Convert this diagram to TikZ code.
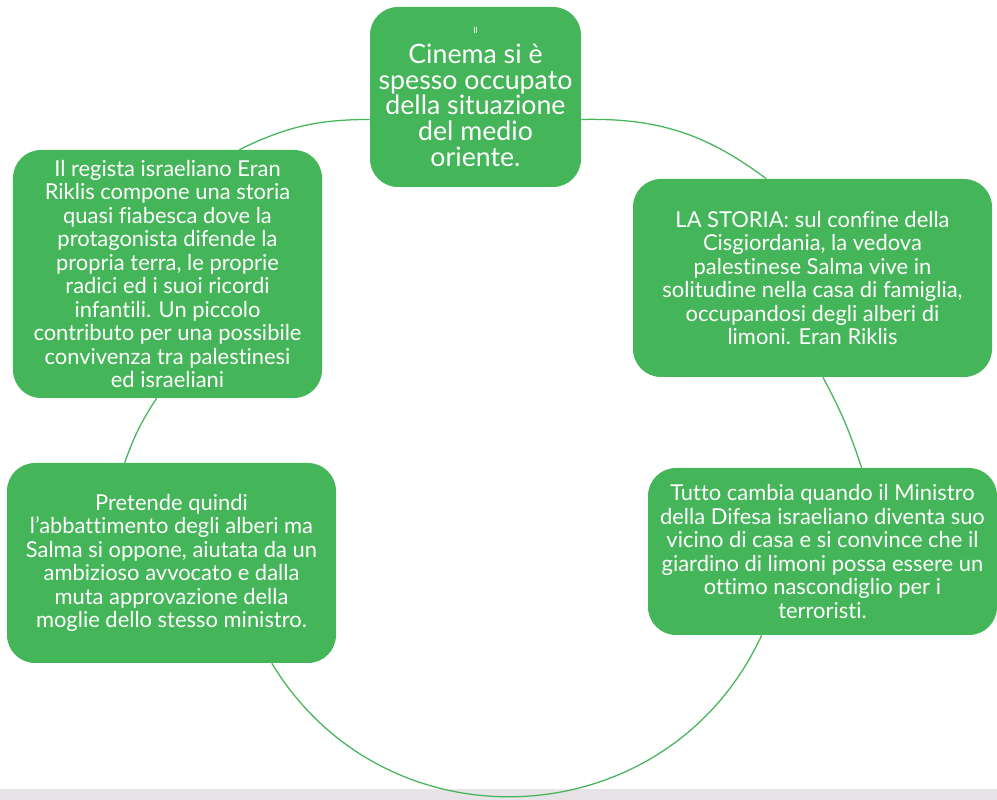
\documentclass[tikz,border=0pt]{standalone}
\usepackage{fontspec}
\setmainfont{Lato}[Ligatures=NoCommon]
\usepackage{tikz}
\usetikzlibrary{positioning}
\definecolor{BoxGreen}{HTML}{45B559}
\definecolor{StripGray}{HTML}{E8E3E7}

\begin{document}
\begin{tikzpicture}[
        every node/.style={font=\fontsize{15.6}{16.75}\selectfont},
        box/.style={fill=BoxGreen, draw=none, rounded corners=0.7cm,
            inner sep=0pt, align=center, text=white},
        ring/.style={BoxGreen, line width=0.9pt},
      ]
      \useasboundingbox (0,0) rectangle (24.925,20);

      % Bottom strip
      \fill[StripGray] (0,0) rectangle (24.925,0.275);

      % Main nodes
      \node[box, minimum width=5.275cm, minimum height=4.5cm,
        font=\fontsize{19}{18.3}\selectfont] (cinema) at (11.8875,17.575)
        {{\fontsize{6}{7}\selectfont Il}\\[3pt]Cinema si è\\spesso occupato\\della situazione\\del medio\\oriente.};
      \node[box, minimum width=8.975cm, minimum height=4.95cm] (storia) at (20.3125,13.05)
        {LA STORIA: sul confine della\\Cisgiordania, la vedova\\palestinese Salma vive in\\solitudine nella casa di famiglia,\\occupandosi degli alberi di\\limoni. Eran Riklis};
      \node[box, minimum width=8.725cm, minimum height=4.175cm] (tutto) at (20.5625,6.2125)
        {Tutto cambia quando il Ministro\\della Difesa israeliano diventa suo\\vicino di casa e si convince che il\\giardino di limoni possa essere un\\ottimo nascondiglio per i\\terroristi.};
      \node[box, minimum width=8.225cm, minimum height=5cm] (pretende) at (4.2875,5.925)
        {Pretende quindi\\l’abbattimento degli alberi ma\\Salma si oppone, aiutata da un\\ambizioso avvocato e dalla\\muta approvazione della\\moglie dello stesso ministro.};
      \node[box, minimum width=7.725cm, minimum height=6.2cm] (regista) at (4.1875,13.15)
        {Il regista israeliano Eran\\Riklis compone una storia\\quasi fiabesca dove la\\protagonista difende la\\propria terra, le proprie\\radici ed i suoi ricordi\\infantili. Un piccolo\\contributo per una possibile\\convivenza tra palestinesi\\ed israeliani};

      % Cycle arcs
      \draw[ring] (regista.60) to[bend left=13] (cinema.192);
      \draw[ring] (cinema.-12) to[bend left=19] (storia.115);
      \draw[ring] (storia.-84) to[bend left=5] (tutto.65);
      \draw[ring] (tutto.234) to[bend left=62, looseness=1.16] (pretende.-45);
      \draw[ring] (pretende.115) to[bend left=7] (regista.265);

    \end{tikzpicture}
\end{document}
